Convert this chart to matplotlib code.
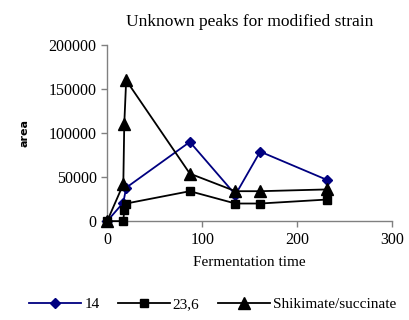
import matplotlib.pyplot as plt

# Peak areas over fermentation time for the modified strain
time_14 = [0, 17, 20, 87, 135, 161, 231]
area_14 = [0, 21000, 38000, 90000, 30000, 79000, 47000]

time_236 = [0, 17, 18, 20, 87, 135, 161, 231]
area_236 = [0, 0, 13000, 20000, 34000, 20000, 20000, 24500]

time_shik = [0, 17, 18, 20, 87, 135, 161, 231]
area_shik = [0, 42000, 110000, 160000, 54000, 34000, 34000, 36000]

plt.rcParams["font.family"] = ["Liberation Serif", "DejaVu Serif"]

fig = plt.figure(figsize=(4.09, 3.2), dpi=100)
ax = fig.add_axes([0.262, 0.309, 0.697, 0.55])

ax.plot(time_14, area_14, color="#000080", marker="D", markersize=5, lw=1.3, label="14", clip_on=False, zorder=3)
ax.plot(time_236, area_236, color="black", marker="s", markersize=6, lw=1.3, label="23,6", clip_on=False, zorder=3)
ax.plot(time_shik, area_shik, color="black", marker="^", markersize=8, lw=1.3, label="Shikimate/succinate", clip_on=False, zorder=3)

ax.set_xlim(0, 300)
ax.set_ylim(0, 200000)
ax.set_xticks([0, 100, 200, 300])
ax.set_yticks([0, 50000, 100000, 150000, 200000])
ax.ticklabel_format(style="plain", axis="y")

for side in ["top", "right"]:
    ax.spines[side].set_visible(False)
for side in ["left", "bottom"]:
    ax.spines[side].set_color("#808080")
    ax.spines[side].set_linewidth(1)
ax.tick_params(colors="#808080", labelcolor="black", labelsize=11.5, length=4, width=1)

ax.set_title("Unknown peaks for modified strain", fontsize=12.5, pad=14)
ax.set_xlabel("Fermentation time", fontsize=11, labelpad=6)
ax.set_ylabel("area", fontsize=8, fontweight="bold", family="DejaVu Sans", labelpad=14)

fig.legend(loc="lower center", ncol=3, frameon=False, fontsize=11,
           bbox_to_anchor=(0.52, -0.015), handlelength=3.4, columnspacing=1.2, handletextpad=0.2)

fig.savefig("out.png", dpi=100)
